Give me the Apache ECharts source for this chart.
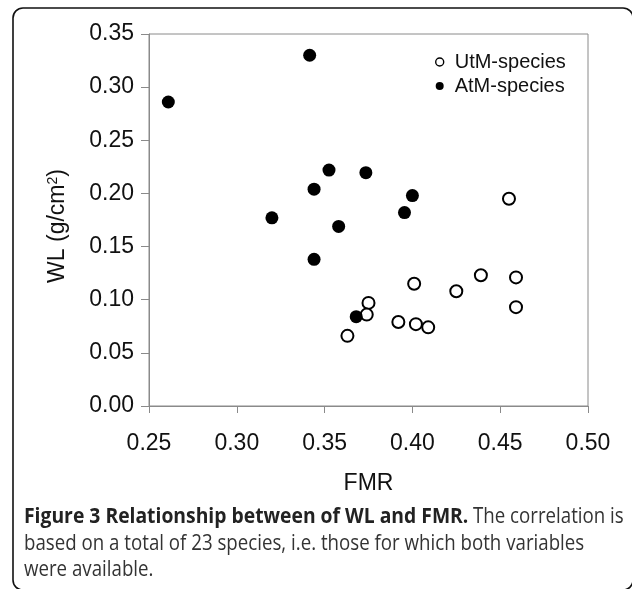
<!DOCTYPE html>
<html>
<head>
<meta charset="utf-8">
<script src="https://cdn.jsdelivr.net/npm/echarts@6/dist/echarts.min.js"></script>
<style>
html,body{margin:0;padding:0;background:#fff;}
#c{width:632px;height:589px;}
</style>
</head>
<body>
<div id="c"></div>
<script>
// Data
const utmFMR = [0.455, 0.439, 0.459, 0.401, 0.425, 0.375, 0.459, 0.374, 0.392, 0.402, 0.409, 0.363];
const utmWL  = [0.195, 0.123, 0.121, 0.115, 0.108, 0.097, 0.093, 0.086, 0.079, 0.077, 0.074, 0.066];
const atmFMR = [0.261, 0.3415, 0.3525, 0.3735, 0.344, 0.400, 0.3955, 0.320, 0.358, 0.344, 0.368];
const atmWL  = [0.286, 0.330, 0.222, 0.2195, 0.204, 0.198, 0.182, 0.177, 0.169, 0.138, 0.084];
const seriesNames = ['UtM-species', 'AtM-species'];
const xTicks = [0.25, 0.30, 0.35, 0.40, 0.45, 0.50];
const yTicks = [0.00, 0.05, 0.10, 0.15, 0.20, 0.25, 0.30, 0.35];
const xTitle = 'FMR';
const captionBold = 'Figure 3 Relationship between of WL and FMR.';
const captionLines = ['The correlation is', 'based on a total of 23 species, i.e. those for which both variables', 'were available.'];

const zip = (a, b) => a.map((v, i) => [v, b[i]]);
const axisFont = 'Liberation Sans, Arial, sans-serif';
const capFont = 'Open Sans, sans-serif';

function capText(text, x, y, bold, sx) {
  return { type: 'text', x: x, y: y, scaleX: sx, silent: true,
    style: { x: 0, y: 0, text: text, fontFamily: capFont, fontSize: 21, fontWeight: bold ? 'bold' : 'normal',
      fill: bold ? '#222' : '#333', textAlign: 'left', textVerticalAlign: 'middle' } };
}

const chart = echarts.init(document.getElementById('c'));
chart.setOption({
  animation: false,
  textStyle: { fontFamily: axisFont },
  grid: { left: 149, top: 34, right: 44, bottom: 183, show: true, borderColor: '#8a8a8a', borderWidth: 1, containLabel: false },
  legend: {
    orient: 'vertical', left: 430, top: 47, itemWidth: 8, itemHeight: 8, itemGap: 4,
    textStyle: { fontSize: 20, color: '#111', fontFamily: axisFont, padding: [0, 0, 0, 6] },
    data: [{ name: seriesNames[0], icon: 'circle', itemStyle: { color: '#fff', borderColor: '#000', borderWidth: 1.4, opacity: 1 } },
           { name: seriesNames[1], icon: 'circle', itemStyle: { color: '#000', opacity: 1 } }]
  },
  xAxis: {
    type: 'value', min: xTicks[0], max: xTicks[xTicks.length - 1], interval: 0.05,
    name: xTitle, nameLocation: 'middle', nameGap: 66,
    nameTextStyle: { fontSize: 23, color: '#111', fontFamily: axisFont },
    axisLine: { show: true, lineStyle: { color: '#8a8a8a', width: 1 } },
    axisTick: { show: true, length: 7, lineStyle: { color: '#8a8a8a' } },
    axisLabel: { fontSize: 23, color: '#111', margin: 26, formatter: v => v.toFixed(2) },
    splitLine: { show: false }
  },
  yAxis: {
    type: 'value', min: yTicks[0], max: yTicks[yTicks.length - 1], interval: 0.05,
    name: 'WL (g/cm{s|2})', nameLocation: 'middle', nameGap: 79, nameRotate: 90,
    nameTextStyle: { fontSize: 23, color: '#111', fontFamily: axisFont, padding: [0, 12, 0, 0],
      rich: { s: { fontSize: 14, verticalAlign: 'top', color: '#111', fontFamily: axisFont, padding: [0, 0, 10, 0] } } },
    axisLine: { show: true, lineStyle: { color: '#8a8a8a', width: 1 } },
    axisTick: { show: true, length: 8, lineStyle: { color: '#8a8a8a' } },
    axisLabel: { fontSize: 23, color: '#111', margin: 15, formatter: v => v.toFixed(2) },
    splitLine: { show: false }
  },
  series: [
    { name: seriesNames[0], type: 'scatter', data: zip(utmFMR, utmWL), symbol: 'circle', symbolSize: 12,
      itemStyle: { color: '#fff', borderColor: '#000', borderWidth: 2, opacity: 1 } },
    { name: seriesNames[1], type: 'scatter', data: zip(atmFMR, atmWL), symbol: 'circle', symbolSize: 13,
      itemStyle: { color: '#000', opacity: 1 } }
  ],
  graphic: [
    { type: 'rect', shape: { x: 13, y: 8, width: 620, height: 582, r: 10 }, silent: true,
      style: { fill: 'none', stroke: '#111', lineWidth: 1.6 } },
    capText(captionBold, 24, 517, true, 0.92),
    capText(captionLines[0], 473, 517, false, 0.89),
    capText(captionLines[1], 24, 544, false, 0.89),
    capText(captionLines[2], 24, 570, false, 0.89)
  ]
});
</script>
</body>
</html>
